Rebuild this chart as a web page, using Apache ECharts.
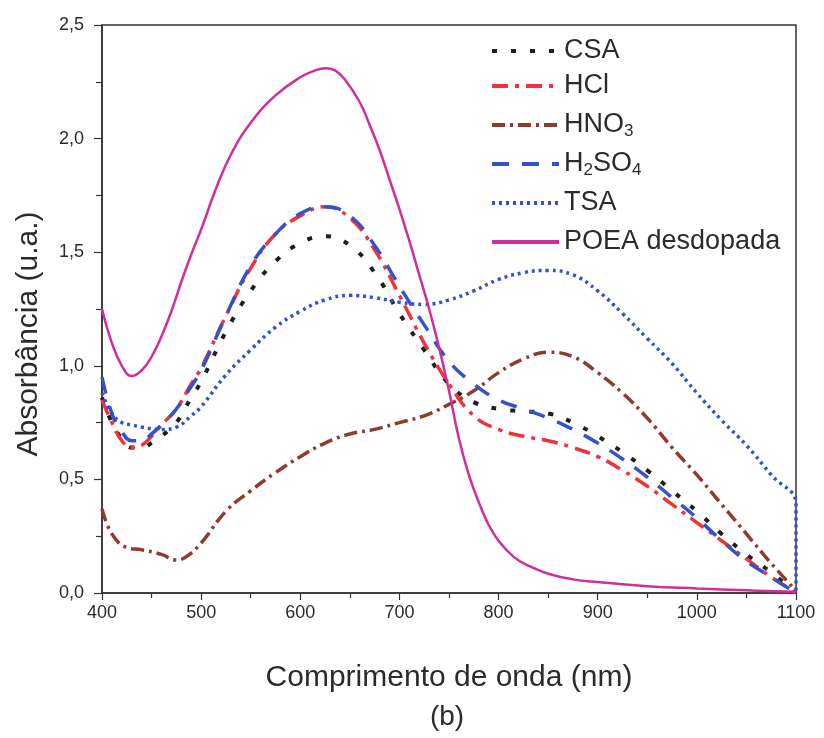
<!DOCTYPE html>
<html><head><meta charset="utf-8">
<script src="https://cdn.jsdelivr.net/npm/echarts@6/dist/echarts.min.js"></script>
<style>html,body{margin:0;padding:0;background:#fff}#c{width:824px;height:738px}</style>
</head><body><div id="c"></div>
<script>
const FONT = '"Liberation Sans", Arial, Helvetica, sans-serif';

// ---- data (wavelength in nm, absorbance in u.a.) ----
const seriesNames = ['CSA', 'HCl', 'HNO3', 'H2SO4', 'TSA', 'POEA desdopada'];
const legendLabels = ['CSA', 'HCl', 'HNO{sub|3}', 'H{sub|2}SO{sub|4}', 'TSA', 'POEA desdopada'];

const xTickLabels = ['400', '500', '600', '700', '800', '900', '1000', '1100'];
const yTickLabels = ['0,0', '0,5', '1,0', '1,5', '2,0', '2,5'];

const wlAcid = [400,410,420,430,440,450,460,475,490,500,525,550,575,600,625,650,675,700,725,750,775,800,825,850,875,900,925,950,975,1000,1025,1050,1075,1100];
const csa   = [0.86,0.75,0.68,0.64,0.64,0.66,0.69,0.75,0.86,0.93,1.15,1.33,1.46,1.54,1.57,1.53,1.41,1.23,1.07,0.92,0.84,0.81,0.80,0.79,0.75,0.69,0.62,0.54,0.45,0.36,0.26,0.17,0.09,0.00];
const hcl   = [0.85,0.75,0.67,0.64,0.65,0.69,0.74,0.81,0.92,0.99,1.22,1.43,1.58,1.66,1.70,1.65,1.51,1.31,1.10,0.92,0.78,0.72,0.69,0.67,0.64,0.60,0.54,0.47,0.39,0.31,0.23,0.15,0.07,0.00];
const h2so4 = [0.95,0.79,0.71,0.67,0.67,0.70,0.74,0.81,0.91,0.98,1.22,1.44,1.58,1.67,1.70,1.66,1.53,1.35,1.18,1.02,0.92,0.85,0.81,0.77,0.72,0.66,0.59,0.51,0.42,0.33,0.23,0.14,0.07,0.00];

const wlHno3 = [400,410,425,440,460,475,485,500,525,550,575,600,625,650,675,700,725,750,775,800,825,850,875,900,925,950,975,1000,1025,1050,1075,1100];
const hno3   = [0.37,0.26,0.20,0.19,0.17,0.145,0.16,0.22,0.36,0.45,0.53,0.60,0.66,0.70,0.72,0.75,0.78,0.83,0.89,0.97,1.03,1.06,1.04,0.97,0.88,0.77,0.64,0.52,0.39,0.26,0.13,0.01];

const wlTsa = [400,410,420,430,440,460,475,490,500,525,550,575,600,625,650,675,700,725,750,775,800,825,850,875,900,925,950,975,1000,1025,1050,1075,1100,1100];
const tsa   = [0.88,0.79,0.75,0.74,0.73,0.72,0.73,0.78,0.82,0.96,1.07,1.17,1.24,1.29,1.31,1.30,1.28,1.27,1.29,1.33,1.38,1.41,1.42,1.40,1.33,1.23,1.12,1.01,0.88,0.76,0.65,0.52,0.39,0.00];

const wlPoea = [400,410,420,430,440,450,460,470,480,490,500,515,530,550,575,600,615,625,635,645,660,670,680,690,700,710,720,730,740,750,760,770,780,790,800,815,830,850,875,900,950,1000,1050,1100];
const poea   = [1.25,1.10,1.00,0.955,0.98,1.04,1.13,1.24,1.37,1.49,1.60,1.78,1.93,2.07,2.19,2.27,2.30,2.31,2.30,2.26,2.16,2.06,1.95,1.82,1.69,1.55,1.40,1.25,1.08,0.89,0.68,0.52,0.40,0.30,0.23,0.16,0.12,0.085,0.06,0.048,0.03,0.02,0.012,0.005];

const pair = (xs, ys) => xs.map((x, i) => [x, ys[i]]);

const styles = {
  'CSA':            {color: '#1f1f1f', width: 4,   type: [5, 14]},
  'HCl':            {color: '#f0323a', width: 3.5, type: [16, 7, 4, 7]},
  'HNO3':           {color: '#8e3b30', width: 3.5, type: [13, 5, 3, 5]},
  'H2SO4':          {color: '#3553c6', width: 3.5, type: [17, 13]},
  'TSA':            {color: '#3152cc', width: 3.5, type: [3, 4]},
  'POEA desdopada': {color: '#cf2f9b', width: 2.5, type: 'solid'}
};
const seriesData = {
  'CSA': pair(wlAcid, csa),
  'HCl': pair(wlAcid, hcl),
  'HNO3': pair(wlHno3, hno3),
  'H2SO4': pair(wlAcid, h2so4),
  'TSA': pair(wlTsa, tsa),
  'POEA desdopada': pair(wlPoea, poea)
};

const legendCenters = [51, 86, 117, 156, 203, 242];

const chart = echarts.init(document.getElementById('c'), null, {renderer: 'canvas'});
chart.setOption({
  animation: false,
  backgroundColor: '#ffffff',
  grid: {left: 102, right: 28, top: 25, bottom: 145, show: true, borderColor: '#333', borderWidth: 1.5, backgroundColor: 'transparent'},
  xAxis: {
    type: 'value', min: 400, max: 1100, interval: 100,
    name: 'Comprimento de onda (nm)', nameLocation: 'middle', nameGap: 70,
    nameTextStyle: {fontFamily: FONT, fontSize: 30, color: '#2b2b2b'},
    axisLine: {show: true, lineStyle: {color: '#333', width: 1.5}},
    axisTick: {show: true, inside: false, length: 7, lineStyle: {color: '#333', width: 1.2}},
    minorTick: {show: true, splitNumber: 2, length: 5, lineStyle: {color: '#333', width: 1.2}},
    splitLine: {show: false},
    axisLabel: {fontFamily: FONT, fontSize: 18, color: '#2b2b2b', margin: 11,
      formatter: v => xTickLabels[Math.round((v - 400) / 100)]}
  },
  yAxis: {
    type: 'value', min: 0, max: 2.5, interval: 0.5,
    axisLine: {show: true, lineStyle: {color: '#333', width: 1.5}},
    axisTick: {show: true, inside: false, length: 8, lineStyle: {color: '#333', width: 1.2}},
    minorTick: {show: true, splitNumber: 2, length: 6, lineStyle: {color: '#333', width: 1.2}},
    splitLine: {show: false},
    axisLabel: {fontFamily: FONT, fontSize: 18, color: '#2b2b2b', margin: 18,
      formatter: v => yTickLabels[Math.round(v / 0.5)]}
  },
  legend: seriesNames.map((n, i) => ({
    data: [n], left: 490, top: legendCenters[i] - 15, orient: 'vertical',
    padding: 0, itemWidth: 67, itemHeight: 14, itemGap: 0, selectedMode: false,
    itemStyle: {opacity: 0, borderWidth: 0},
    lineStyle: {width: 4, type: styles[n].type, color: styles[n].color, cap: 'butt'},
    formatter: () => legendLabels[i],
    textStyle: {fontFamily: FONT, fontSize: 27, lineHeight: 30, color: '#2b2b2b', padding: [0, 0, 0, 0],
      rich: {sub: {fontFamily: FONT, fontSize: 17, color: '#2b2b2b', verticalAlign: 'bottom', lineHeight: 17, padding: [21, 0, 0, 0]}}}
  })),
  graphic: [
    {type: 'text', x: 29, y: 334, rotation: Math.PI / 2,
      style: {text: 'Absorbância (u.a.)', fontFamily: FONT, fontSize: 30, fill: '#2b2b2b', align: 'center', verticalAlign: 'middle'}},
    {type: 'text', x: 447, y: 717,
      style: {text: '(b)', fontFamily: FONT, fontSize: 28, fill: '#2b2b2b', align: 'center', verticalAlign: 'middle'}}
  ],
  series: seriesNames.map(n => ({
    name: n, type: 'line', data: seriesData[n], symbol: 'none', showSymbol: false,
    smooth: 0.45, clip: true,
    lineStyle: {color: styles[n].color, width: styles[n].width, type: styles[n].type, cap: 'butt'},
    itemStyle: {color: styles[n].color},
    z: n === 'POEA desdopada' ? 3 : 2
  }))
});
</script></body></html>
